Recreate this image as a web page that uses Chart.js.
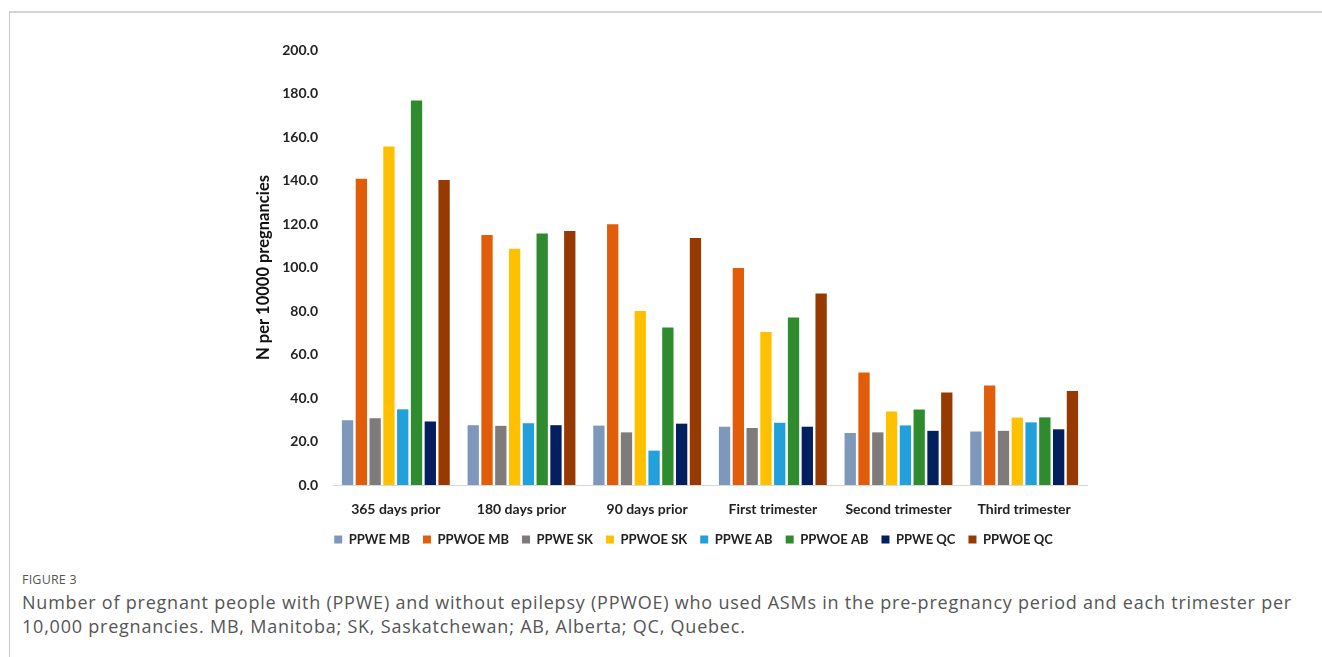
<!DOCTYPE html>
<html>
<head>
<meta charset="utf-8">
<script src="https://cdn.jsdelivr.net/npm/chart.js@4.4.1/dist/chart.umd.min.js"></script>
<style>
  html, body { margin: 0; padding: 0; background: #fff; }
  #page { position: relative; width: 1322px; height: 657px; overflow: hidden; }
  #frame { position: absolute; left: 9px; top: 11px; right: -2px; bottom: -2px;
           border-top: 2px solid #d4d4d4; border-left: 1px solid #c8c8c8; }
  #wrap { position: absolute; left: 0; top: 0; width: 1322px; height: 560px; }
  #fig { position: absolute; left: 22px; top: 571px; font-family: "Open Sans", sans-serif;
         font-size: 12.5px; color: #555; letter-spacing: 0.2px; }
  .cap { position: absolute; left: 22px; font-family: "Open Sans", sans-serif; line-height: 24px;
         font-size: 18px; color: #555; white-space: nowrap; }
</style>
</head>
<body>
<div id="page">
  <div id="frame"></div>
  <div id="wrap"><canvas id="c" width="1322" height="560"></canvas></div>
  <div id="fig">FIGURE 3</div>
  <div class="cap" id="cap1" style="top:590px">Number of pregnant people with (PPWE) and without epilepsy (PPWOE) who used ASMs in the pre-pregnancy period and each trimester per</div>
  <div class="cap" id="cap2" style="top:614px">10,000 pregnancies. MB, Manitoba; SK, Saskatchewan; AB, Alberta; QC, Quebec.</div>
</div>
<script>
const categories = ["365 days prior", "180 days prior", "90 days prior", "First trimester", "Second trimester", "Third trimester"];
const seriesNames = ["PPWE MB", "PPWOE MB", "PPWE SK", "PPWOE SK", "PPWE AB", "PPWOE AB", "PPWE QC", "PPWOE QC"];
const ppweMB  = [29.8, 27.5, 27.3, 26.8, 23.9, 24.6];
const ppwoeMB = [140.8, 115.0, 119.9, 99.8, 51.7, 45.7];
const ppweSK  = [30.7, 27.2, 24.2, 26.2, 24.2, 24.9];
const ppwoeSK = [155.6, 108.6, 80.0, 70.3, 33.8, 31.0];
const ppweAB  = [34.8, 28.4, 15.8, 28.6, 27.4, 28.8];
const ppwoeAB = [176.8, 115.6, 72.4, 77.0, 34.7, 31.1];
const ppweQC  = [29.2, 27.5, 28.2, 26.8, 24.9, 25.6];
const ppwoeQC = [140.2, 116.8, 113.6, 88.1, 42.5, 43.2];
const yTicks = [0, 20, 40, 60, 80, 100, 120, 140, 160, 180, 200];
const colors = ["#7D98BA", "#E15D0A", "#7F7B7B", "#FFC000", "#22A0DB", "#2E8B2E", "#041F60", "#973A02"];

// fit caption line 1 to the reference width via letter-spacing
(function () {
  const c1 = document.getElementById("cap1"), c2 = document.getElementById("cap2");
  const w = c1.getBoundingClientRect().width;
  const n = c1.textContent.length;
  const ls = (1270 - w) / n;
  c1.style.letterSpacing = ls + "px";
  c2.style.letterSpacing = ls + "px";
})();

const values = [ppweMB, ppwoeMB, ppweSK, ppwoeSK, ppweAB, ppwoeAB, ppweQC, ppwoeQC];
const datasets = seriesNames.map((n, i) => ({
  label: n, data: values[i], backgroundColor: colors[i], borderWidth: 0,
  categoryPercentage: 0.878, barPercentage: 0.82
}));

const shiftLegend = {
  id: "shiftLegend",
  beforeDraw(chart) {
    const lg = chart.legend;
    if (lg && !lg._shifted) { lg.left += 23; lg.right += 23; lg._shifted = true; }
  }
};

const FONT = "Lato, 'Liberation Sans', sans-serif";
new Chart(document.getElementById("c"), {
  type: "bar",
  data: { labels: categories, datasets },
  plugins: [shiftLegend],
  options: {
    responsive: false, animation: false,
    layout: { padding: { left: 254, right: 235, top: 50, bottom: 4 } },
    plugins: {
      tooltip: { enabled: false },
      legend: {
        position: "bottom",
        labels: { boxWidth: 8, boxHeight: 8, padding: 13, color: "#222",
                  font: { family: FONT, size: 13, weight: "bold" } }
      }
    },
    scales: {
      x: {
        grid: { display: false, drawTicks: false },
        border: { display: true, color: "#d9d9d9", width: 1 },
        ticks: { color: "#222", padding: 16, maxRotation: 0, font: { family: FONT, size: 14, weight: "bold" } },
        afterFit: (s) => { s.height = 35; }
      },
      y: {
        min: 0, max: 200,
        afterBuildTicks: (s) => { s.ticks = yTicks.map(v => ({ value: v })); },
        grid: { display: false, drawTicks: false },
        border: { display: false },
        ticks: { color: "#222", padding: 15, font: { family: FONT, size: 14, weight: "bold" },
                 callback: (v) => Number(v).toFixed(1) },
        title: { display: true, text: "N per 10000 pregnancies", color: "#111", padding: 0,
                 font: { family: FONT, size: 16.5, weight: "bold" } },
        afterFit: (s) => { s.width = 79; }
      }
    }
  }
});
</script>
</body>
</html>
